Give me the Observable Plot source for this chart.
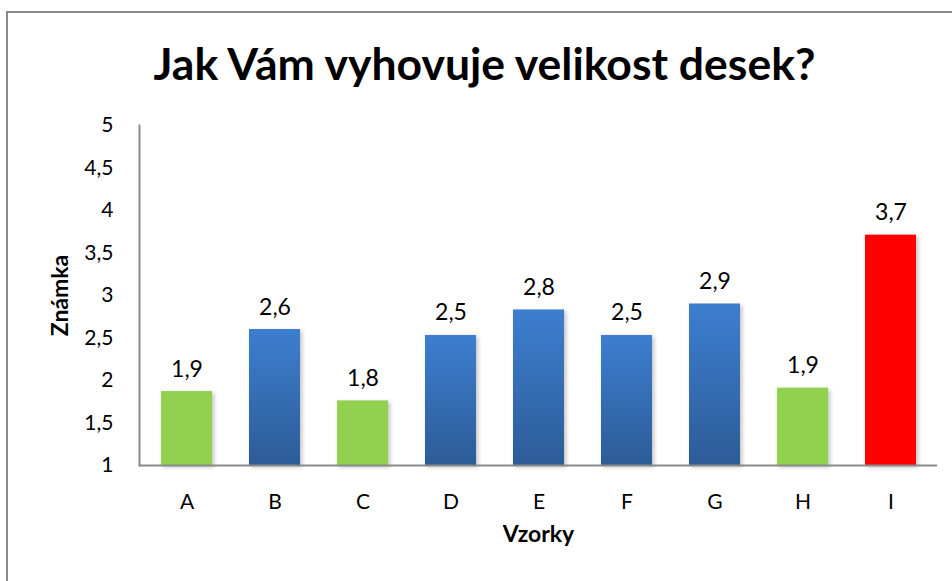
<!DOCTYPE html>
<html>
<head>
<meta charset="utf-8">
<script src="https://cdn.jsdelivr.net/npm/d3@7"></script>
<script src="https://cdn.jsdelivr.net/npm/@observablehq/plot@0.6"></script>
<style>
  html, body { margin: 0; padding: 0; background: #fff; }
  #wrap { position: relative; width: 952px; height: 581px; overflow: hidden; font-family: Lato, "Open Sans", sans-serif; }
  #border { position: absolute; left: 6px; top: 11px; width: 1000px; height: 1000px; border-left: 2px solid #8a8a8a; border-top: 2px solid #8a8a8a; }
  #title { position: absolute; left: 0; top: 34px; width: 969px; text-align: center; font-weight: bold; font-size: 44.5px; color: #000; line-height: 58px; white-space: nowrap; }
  #chart { position: absolute; left: 0; top: 110px; }
</style>
</head>
<body>
<div id="wrap">
  <div id="border"></div>
  <div id="title">Jak Vám vyhovuje velikost desek?</div>
  <div id="chart"></div>
</div>
<script>
const categories = ["A", "B", "C", "D", "E", "F", "G", "H", "I"];
const values = [1.87, 2.6, 1.76, 2.53, 2.83, 2.53, 2.9, 1.91, 3.71];
const yTicks = [1, 1.5, 2, 2.5, 3, 3.5, 4, 4.5, 5];
const yDomain = [1, 5];
const xLabel = "Vzorky";
const yLabel = "Známka";

const maxVal = d3.max(values);
const data = categories.map((c, i) => ({
  cat: c,
  value: values[i],
  fill: values[i] === maxVal ? "#FF0000" : values[i] < 2 ? "#92D050" : "url(#blueGrad)"
}));
const fmt1 = v => v.toFixed(1).replace(".", ",");
const fmtTick = v => String(v).replace(".", ",");
const fontFam = "Lato, 'Open Sans', sans-serif";
const yMid = (yDomain[0] + yDomain[1]) / 2;

const chart = Plot.plot({
  width: 952,
  height: 471,
  marginTop: 15,
  marginBottom: 116,
  marginLeft: 139,
  marginRight: 15,
  style: { fontFamily: fontFam, fontSize: "21px", color: "#000", background: "transparent", overflow: "visible" },
  x: { domain: categories, paddingInner: 0.425, paddingOuter: 0.2125, label: null },
  y: { domain: yDomain, label: null },
  color: { type: "identity" },
  marks: [
    Plot.barY(data, { x: "cat", y1: yDomain[0], y2: "value", fill: "fill" }),
    Plot.ruleY([yDomain[0]], { stroke: "#8a8a8a", strokeWidth: 2 }),
    Plot.frame({ anchor: "left", stroke: "#8a8a8a", strokeWidth: 2 }),
    Plot.axisX({ tickSize: 0, tickPadding: 29, label: null, fontSize: 21 }),
    Plot.axisY({ ticks: yTicks, tickSize: 0, tickPadding: 26, tickFormat: fmtTick, label: null, fontSize: 21 }),
    Plot.text(data, { x: "cat", y: "value", text: d => fmt1(d.value), lineAnchor: "bottom", dy: -15, fontSize: 23, fill: "#000" }),
    Plot.text([xLabel], { frameAnchor: "bottom", dy: 76, fontWeight: "bold", fontSize: 23, fill: "#000" }),
    Plot.text([yLabel], { frameAnchor: "left", y: () => yMid, textAnchor: "middle", dx: -79, rotate: -90, fontWeight: "bold", fontSize: 23, fill: "#000" })
  ]
});

const svg = d3.select(chart);
const defs = svg.insert("defs", ":first-child");
const grad = defs.append("linearGradient").attr("id", "blueGrad").attr("x1", 0).attr("y1", 0).attr("x2", 0).attr("y2", 1);
grad.append("stop").attr("offset", "0%").attr("stop-color", "#3D7ECF");
grad.append("stop").attr("offset", "100%").attr("stop-color", "#2D5C98");
svg.selectAll("g[aria-label='bar']").style("filter", "drop-shadow(2px 2px 2px rgba(0,0,0,0.25))");

document.getElementById("chart").appendChild(chart);
</script>
</body>
</html>
